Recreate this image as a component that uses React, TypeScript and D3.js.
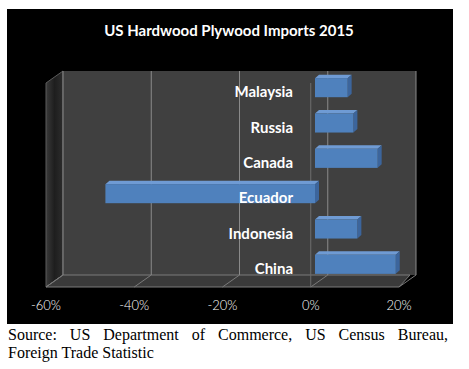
import React, { useEffect, useRef } from "react";
import * as d3 from "d3";

// data
const countries = ["Malaysia", "Russia", "Canada", "Ecuador", "Indonesia", "China"];
const changes = [7.4, 8.7, 14.2, -47.5, 9.6, 18.3];
const ticks = [-60, -40, -20, 0, 20];
const title = "US Hardwood Plywood Imports 2015";
const sourceLines = ["Source: US Department of Commerce, US Census Bureau,", "Foreign Trade Statistic"];

const W = 469;
const H = 369;
const DX = 17; // depth offset of the 3d box
const DY = 12;

export default function App() {
  const srcRef = useRef<SVGTextElement>(null);

  // front plane of the box, back plane = front shifted by depth
  const xFront = d3.scaleLinear().domain([-60, 20]).range([46, 399]);
  const xAt = (v: number, depth: number) => xFront(v) + depth * DX;
  const yTop = 83;
  const yBottom = 287;

  const y = d3
    .scaleBand<string>()
    .domain(countries)
    .range([70, 282])
    .paddingInner(0.46)
    .paddingOuter(0.23);

  const barDepth = 0.25;
  const bdx = 4;
  const bdy = 3.5;

  useEffect(() => {
    // justify the first source line like the original caption
    const el = srcRef.current;
    if (!el) return;
    const len = el.getComputedTextLength();
    const gaps = sourceLines[0].split(" ").length - 1;
    d3.select(el).attr("word-spacing", (440 - len) / gaps);
  }, []);

  const pt = (a: [number, number][]) => a.map((p) => p.join(",")).join(" ");

  const backL = xAt(-60, 1);
  const backR = xAt(20, 1);
  const frontL = xAt(-60, 0);
  const frontR = xAt(20, 0);

  return (
    <div style={{ position: "absolute", left: 0, top: 0 }}>
      <svg width={W} height={H} style={{ display: "block" }}>
        <defs>
          <linearGradient id="wall" x1="0" x2="1" y1="0" y2="0">
            <stop offset="0" stopColor="#3a3a3a" />
            <stop offset="0.5" stopColor="#1e1e1e" />
            <stop offset="1" stopColor="#2c2c2c" />
          </linearGradient>
        </defs>
        <rect x={0} y={0} width={W} height={H} fill="#fff" />
        <rect x={7} y={9} width={446} height={315} fill="#000" />
        <text
          x={229}
          y={36}
          textAnchor="middle"
          fill="#fff"
          fontFamily="Lato, 'Open Sans', sans-serif"
          fontWeight="bold"
          fontSize={15}
        >
          {title}
        </text>

        {/* left side wall */}
        <polygon
          points={pt([
            [frontL, yTop],
            [backL, yTop - DY],
            [backL, yBottom - DY],
            [frontL, yBottom],
          ])}
          fill="url(#wall)"
          stroke="#5a5a5a"
          strokeWidth={1}
        />
        {/* back wall */}
        <rect x={backL} y={yTop - DY} width={backR - backL} height={yBottom - yTop} fill="#404040" />
        {/* floor */}
        <polygon
          points={pt([
            [frontL, yBottom],
            [frontR, yBottom],
            [backR - 6, yBottom - DY],
            [backL, yBottom - DY],
          ])}
          fill="#3a3a3a"
          stroke="#7a7a7a"
          strokeWidth={1}
        />
        {/* gridlines */}
        {ticks.map((t) => (
          <g key={t}>
            <line
              x1={xAt(t, 1)}
              x2={xAt(t, 1)}
              y1={yTop - DY}
              y2={yBottom - DY}
              stroke="#8a8a8a"
              strokeWidth={1}
            />
            <line
              x1={xAt(t, 1)}
              x2={xAt(t, 0)}
              y1={yBottom - DY}
              y2={yBottom}
              stroke="#7a7a7a"
              strokeWidth={1}
            />
          </g>
        ))}
        {/* zero plane front edge */}
        <line x1={xAt(0, 0)} x2={xAt(0, 0)} y1={yTop} y2={yBottom} stroke="#6e6e6e" strokeWidth={1} />

        {/* bars */}
        {countries.map((c, i) => {
          const v = changes[i];
          const x0 = xAt(Math.min(0, v), barDepth);
          const x1 = xAt(Math.max(0, v), barDepth);
          const yb = y(c)!;
          const h = y.bandwidth();
          return (
            <g key={c}>
              <polygon
                points={pt([
                  [x0, yb],
                  [x0 + bdx, yb - bdy],
                  [x1 + bdx, yb - bdy],
                  [x1, yb],
                ])}
                fill="#6f9bd4"
              />
              <polygon
                points={pt([
                  [x1, yb],
                  [x1 + bdx, yb - bdy],
                  [x1 + bdx, yb + h - bdy],
                  [x1, yb + h],
                ])}
                fill="#3c659c"
              />
              <rect x={x0} y={yb} width={x1 - x0} height={h} fill="#4f81bd" />
            </g>
          );
        })}

        {/* category labels */}
        {countries.map((c) => (
          <text
            key={c}
            x={293}
            y={y(c)! + y.bandwidth() / 2 + 9.5}
            textAnchor="end"
            fill="#fff"
            fontFamily="Lato, 'Open Sans', sans-serif"
            fontWeight="bold"
            fontSize={15}
          >
            {c}
          </text>
        ))}

        {/* value axis labels */}
        {ticks.map((t) => (
          <text
            key={t}
            x={xAt(t, 0)}
            y={310}
            textAnchor="middle"
            fill="#fff"
            fontFamily="Lato, 'Open Sans', sans-serif"
            fontWeight={300}
            fontSize={13}
          >
            {t + "%"}
          </text>
        ))}

        {/* source caption */}
        <text ref={srcRef} x={8} y={340} fontFamily="'Liberation Serif', 'Times New Roman', serif" fontSize={16} fill="#000">
          {sourceLines[0]}
        </text>
        <text x={8} y={358} fontFamily="'Liberation Serif', 'Times New Roman', serif" fontSize={16} fill="#000">
          {sourceLines[1]}
        </text>
      </svg>
    </div>
  );
}
